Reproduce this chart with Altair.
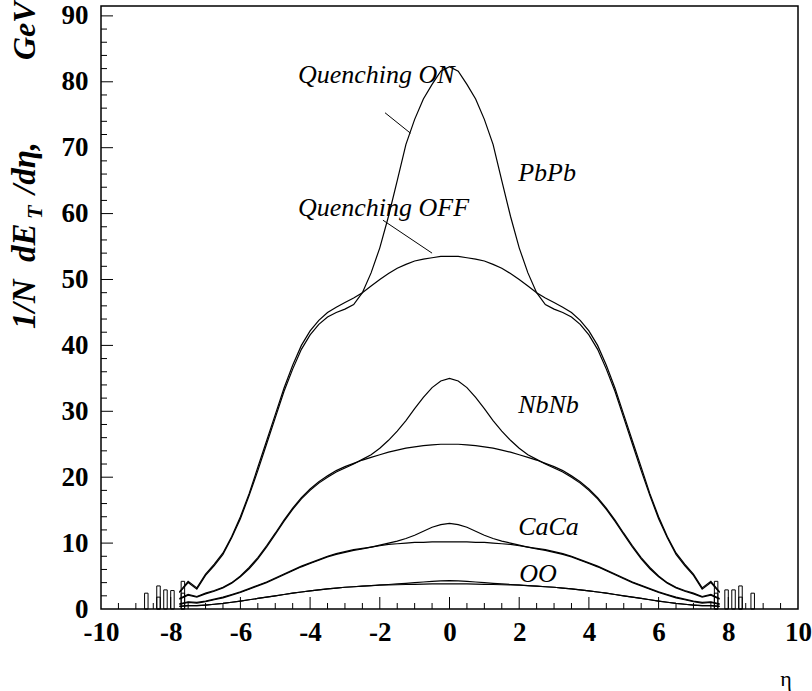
import altair as alt
import pandas as pd

# ---------------- data ----------------
ETA = [round(-7.75 + 0.25 * i, 2) for i in range(63)]

PBPB_ON = [2.5, 4.0, 3.0, 5.1, 6.6, 8.3, 10.8, 13.7, 17.2, 21.0, 25.0, 29.0, 33.0, 36.4, 39.4, 41.6,
           43.2, 44.3, 45.0, 45.5, 46.2, 48.0, 51.0, 54.8, 59.6, 65.0, 70.5, 74.3, 77.4, 79.6, 81.6,
           82.3,
           81.6, 79.6, 77.4, 74.3, 70.5, 65.0, 59.6, 54.8, 51.0, 48.0, 46.2, 45.5, 45.0, 44.3, 43.2,
           41.6, 39.4, 36.4, 33.0, 29.0, 25.0, 21.0, 17.2, 13.7, 10.8, 8.3, 6.6, 5.1, 3.0, 4.0, 2.5]
PBPB_OFF = [2.6, 4.2, 3.2, 5.3, 6.8, 8.5, 11.0, 14.0, 17.5, 21.5, 25.5, 29.5, 33.5, 37.0, 40.0, 42.2,
            43.8, 45.0, 45.8, 46.5, 47.2, 48.0, 49.0, 50.0, 50.9, 51.7, 52.3, 52.8, 53.1, 53.3, 53.5,
            53.5,
            53.5, 53.3, 53.1, 52.8, 52.3, 51.7, 50.9, 50.0, 49.0, 48.0, 47.2, 46.5, 45.8, 45.0, 43.8,
            42.2, 40.0, 37.0, 33.5, 29.5, 25.5, 21.5, 17.5, 14.0, 11.0, 8.5, 6.8, 5.3, 3.2, 4.2, 2.6]
NBNB_ON = [1.5, 2.1, 1.8, 2.3, 2.7, 3.2, 3.9, 4.9, 6.1, 7.6, 9.4, 11.3, 13.3, 15.1, 16.7, 18.0,
           19.1, 20.0, 20.8, 21.4, 22.0, 22.7, 23.4, 24.4, 25.6, 27.0, 28.6, 30.4, 32.1, 33.6, 34.6,
           35.0,
           34.6, 33.6, 32.1, 30.4, 28.6, 27.0, 25.6, 24.4, 23.4, 22.7, 22.0, 21.4, 20.8, 20.0, 19.1,
           18.0, 16.7, 15.1, 13.3, 11.3, 9.4, 7.6, 6.1, 4.9, 3.9, 3.2, 2.7, 2.3, 1.8, 2.1, 1.5]
NBNB_OFF = [1.6, 2.2, 1.9, 2.4, 2.8, 3.3, 4.0, 5.0, 6.3, 7.8, 9.6, 11.5, 13.5, 15.3, 16.9, 18.2,
            19.3, 20.2, 21.0, 21.6, 22.1, 22.6, 23.0, 23.4, 23.8, 24.1, 24.4, 24.6, 24.8, 24.9, 25.0,
            25.0,
            25.0, 24.9, 24.8, 24.6, 24.4, 24.1, 23.8, 23.4, 23.0, 22.6, 22.1, 21.6, 21.0, 20.2, 19.3,
            18.2, 16.9, 15.3, 13.5, 11.5, 9.6, 7.8, 6.3, 5.0, 4.0, 3.3, 2.8, 2.4, 1.9, 2.2, 1.6]
CACA_ON = [0.7, 1.0, 0.9, 1.1, 1.4, 1.7, 2.1, 2.5, 3.0, 3.5, 4.0, 4.6, 5.2, 5.8, 6.4, 6.9,
           7.4, 7.9, 8.3, 8.6, 8.9, 9.1, 9.4, 9.7, 10.0, 10.3, 10.7, 11.2, 11.8, 12.4, 12.8,
           13.0,
           12.8, 12.4, 11.8, 11.2, 10.7, 10.3, 10.0, 9.7, 9.4, 9.1, 8.9, 8.6, 8.3, 7.9, 7.4,
           6.9, 6.4, 5.8, 5.2, 4.6, 4.0, 3.5, 3.0, 2.5, 2.1, 1.7, 1.4, 1.1, 0.9, 1.0, 0.7]
CACA_OFF = [0.8, 1.1, 1.0, 1.2, 1.5, 1.8, 2.2, 2.6, 3.1, 3.6, 4.1, 4.7, 5.3, 5.9, 6.5, 7.0,
            7.5, 8.0, 8.4, 8.7, 9.0, 9.2, 9.4, 9.6, 9.8, 9.9, 10.0, 10.1, 10.1, 10.2, 10.2,
            10.2,
            10.2, 10.2, 10.1, 10.1, 10.0, 9.9, 9.8, 9.6, 9.4, 9.2, 9.0, 8.7, 8.4, 8.0, 7.5,
            7.0, 6.5, 5.9, 5.3, 4.7, 4.1, 3.6, 3.1, 2.6, 2.2, 1.8, 1.5, 1.2, 1.0, 1.1, 0.8]
OO_ON = [0.4, 0.5, 0.5, 0.6, 0.72, 0.85, 1.02, 1.2, 1.4, 1.6, 1.8, 2.0, 2.2, 2.4, 2.58, 2.75,
         2.9, 3.05, 3.18, 3.3, 3.38, 3.46, 3.55, 3.65, 3.72, 3.8, 3.9, 4.0, 4.1, 4.2, 4.28,
         4.3,
         4.28, 4.2, 4.1, 4.0, 3.9, 3.8, 3.72, 3.65, 3.55, 3.46, 3.38, 3.3, 3.18, 3.05, 2.9,
         2.75, 2.58, 2.4, 2.2, 2.0, 1.8, 1.6, 1.4, 1.2, 1.02, 0.85, 0.72, 0.6, 0.5, 0.5, 0.4]
OO_OFF = [0.4, 0.5, 0.5, 0.6, 0.72, 0.85, 1.02, 1.2, 1.4, 1.6, 1.8, 2.0, 2.2, 2.4, 2.58, 2.75,
          2.9, 3.05, 3.18, 3.3, 3.38, 3.46, 3.53, 3.6, 3.64, 3.68, 3.72, 3.75, 3.78, 3.8, 3.8,
          3.8,
          3.8, 3.8, 3.78, 3.75, 3.72, 3.68, 3.64, 3.6, 3.53, 3.46, 3.38, 3.3, 3.18, 3.05, 2.9,
          2.75, 2.58, 2.4, 2.2, 2.0, 1.8, 1.6, 1.4, 1.2, 1.02, 0.85, 0.72, 0.6, 0.5, 0.5, 0.4]

SERIES = {
    "PbPb ON": PBPB_ON, "PbPb OFF": PBPB_OFF,
    "NbNb ON": NBNB_ON, "NbNb OFF": NBNB_OFF,
    "CaCa ON": CACA_ON, "CaCa OFF": CACA_OFF,
    "OO ON": OO_ON, "OO OFF": OO_OFF,
}

# isolated tail bins (left edge, content)
TAIL_LEFT = [-8.75, -8.4, -8.4, -8.2, -8.0, -7.7, -7.7, 7.6, 7.6, 7.9, 8.1, 8.3, 8.3, 8.65]
TAIL_HEIGHT = [2.4, 3.5, 1.8, 2.9, 2.8, 4.2, 2.4, 4.2, 2.4, 2.9, 2.9, 3.5, 1.8, 2.4]
BIN_WIDTH = 0.1

# labels
LABELS = ["Quenching ON", "Quenching OFF", "PbPb", "NbNb", "CaCa", "OO"]
LABEL_ETA = [-4.35, -4.35, 1.97, 1.97, 1.97, 2.0]
LABEL_VAL = [81.0, 60.8, 66.2, 31.0, 12.5, 5.3]

# pointer lines (start -> end)
PTR_ETA1 = [-1.85, -1.91]
PTR_VAL1 = [75.3, 59.0]
PTR_ETA2 = [-1.12, -0.5]
PTR_VAL2 = [72.2, 54.0]

X_LABELS = list(range(-10, 11, 2))
Y_LABELS = list(range(0, 91, 10))
X_MAJOR = [v for v in range(-8, 9, 2)]
X_MINOR = [i * 0.5 for i in range(-19, 20) if i % 4 != 0]
Y_MAJOR = list(range(10, 91, 10))
Y_MINOR = [v for v in range(2, 91, 2) if v % 10 != 0]

# ---------------- chart ----------------
W, H = 697, 603
SERIF = "Liberation Serif"

rows = []
for name, vals in SERIES.items():
    for e, v in zip(ETA, vals):
        rows.append({"eta": e, "v": v, "s": name})
df = pd.DataFrame(rows)

xs = alt.Scale(domain=[-10, 10], nice=False, zero=False)
ys = alt.Scale(domain=[0, 91.5], nice=False, zero=False)

curves = alt.Chart(df).mark_line(color="black", strokeWidth=1.2).encode(
    x=alt.X("eta:Q", scale=xs, axis=alt.Axis(
        values=X_LABELS, ticks=False, domain=False, grid=False, title=None,
        labelExpr="datum.value < 0 ? '-' + abs(datum.value) : '' + datum.value",
        labelFont=SERIF, labelFontSize=27, labelFontWeight="bold", labelColor="black",
        labelPadding=10, labelFlush=False, labelOverlap=False)),
    y=alt.Y("v:Q", scale=ys, axis=alt.Axis(
        values=Y_LABELS, ticks=False, domain=False, grid=False, title=None,
        labelFont=SERIF, labelFontSize=27, labelFontWeight="bold", labelColor="black",
        labelPadding=13, labelFlush=False, labelOverlap=False, labelBaseline="middle")),
    detail="s:N",
)

tails_df = pd.DataFrame({"l": TAIL_LEFT, "h": TAIL_HEIGHT})
tails_df["r"] = tails_df["l"] + BIN_WIDTH
tails = alt.Chart(tails_df).mark_rect(filled=False, stroke="black", strokeWidth=1).encode(
    x=alt.X("l:Q", scale=xs), x2="r:Q", y=alt.Y("h:Q", scale=ys), y2=alt.datum(0))

def xticks(vals, length):
    return alt.Chart(pd.DataFrame({"t": vals})).mark_rule(color="black", strokeWidth=1).encode(
        x=alt.X("t:Q", scale=xs), y=alt.value(H), y2=alt.value(H - length))

def yticks(vals, length):
    return alt.Chart(pd.DataFrame({"t": vals})).mark_rule(color="black", strokeWidth=1).encode(
        y=alt.Y("t:Q", scale=ys), x=alt.value(0), x2=alt.value(length))

lab_df = pd.DataFrame({"t": LABELS, "e": LABEL_ETA, "v": LABEL_VAL})
labels = alt.Chart(lab_df).mark_text(font=SERIF, fontStyle="italic", fontSize=26, align="left",
                                     baseline="middle", color="black").encode(
    x=alt.X("e:Q", scale=xs), y=alt.Y("v:Q", scale=ys), text="t:N")

ptr_df = pd.DataFrame({"e1": PTR_ETA1, "v1": PTR_VAL1, "e2": PTR_ETA2, "v2": PTR_VAL2})
pointers = alt.Chart(ptr_df).mark_rule(color="black", strokeWidth=1).encode(
    x=alt.X("e1:Q", scale=xs), y=alt.Y("v1:Q", scale=ys), x2="e2:Q", y2="v2:Q")

def free_text(txt, x, y, size, weight="bold", style="italic", angle=270, align="left"):
    return alt.Chart(pd.DataFrame({"t": [txt]})).mark_text(
        font=SERIF, fontSize=size, fontWeight=weight, fontStyle=style, angle=angle,
        align=align, baseline="alphabetic", color="black").encode(
        text="t:N", x=alt.value(x), y=alt.value(y))

# y-axis title pieces (rotated), positions relative to the plot's top-left corner
ytitle = [
    free_text("1/N", -66, 323, 33),
    free_text("dE", -66, 256, 33),
    free_text("T", -59, 213, 22),
    free_text("/dη,", -66, 188, 33),
    free_text("GeV", -66, 54, 32),
]
xtitle = free_text("η", 685, 680, 22, weight="normal", style="normal", angle=0, align="center")

chart = alt.layer(
    curves, tails,
    xticks(X_MAJOR, 12), xticks(X_MINOR, 6), yticks(Y_MAJOR, 12), yticks(Y_MINOR, 6),
    labels, pointers, *ytitle, xtitle,
).properties(
    width=W, height=H,
    autosize=alt.AutoSizeParams(type="none"),
    padding={"left": 101, "top": 6, "right": 14, "bottom": 82},
    background="white",
).configure_view(stroke="black", strokeWidth=1.5)

chart.save("out.html", embed_options={"renderer": "svg", "actions": False})
